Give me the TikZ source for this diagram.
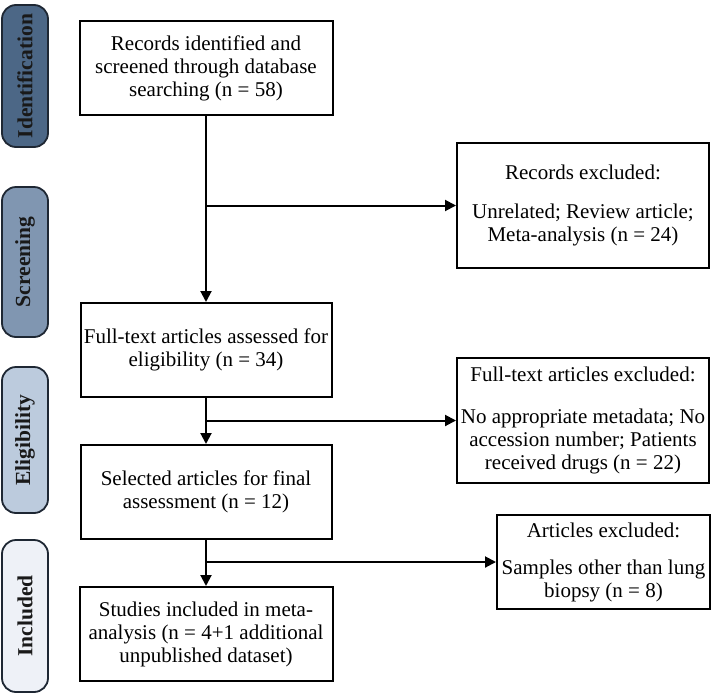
\documentclass[tikz,border=0pt]{standalone}
\usepackage{fontspec}
\setmainfont{Liberation Serif}
\usetikzlibrary{arrows.meta}
\definecolor{cIdent}{HTML}{4C6786}
\definecolor{cScreen}{HTML}{8096B1}
\definecolor{cElig}{HTML}{BCCBDD}
\definecolor{cIncl}{HTML}{EEF1F7}
\definecolor{cEdge}{HTML}{1E2733}
\tikzset{
  phase/.style={draw=cEdge, line width=1.8pt, rounded corners=14pt, rotate=90,
    minimum height=46pt, inner sep=0pt, font=\fontsize{21.5}{23}\selectfont\bfseries, text=black!90},
  box/.style={draw=black, line width=2pt, align=center, inner sep=2pt,
    font=\fontsize{21}{23}\selectfont},
  arr/.style={draw=black, line width=2pt, -{Triangle[length=11pt,width=11pt]}},
}
\begin{document}
\begin{tikzpicture}[x=1pt,y=1pt]
\useasboundingbox[fill=white] (0,0) rectangle (712,-694);
% phase labels
\node[phase, fill=cIdent, minimum width=142pt] (p1) at (25,-76) {Identification};
\node[phase, fill=cScreen, minimum width=150pt] (p2) at (25,-262) {Screening};
\node[phase, fill=cElig, minimum width=146pt] (p3) at (25,-440) {Eligibility};
\node[phase, fill=cIncl, minimum width=152pt] (p4) at (25,-616) {Included};
% main boxes
\node[box, minimum width=253pt, minimum height=94pt] (b1) at (206,-68)
  {Records identified and\\screened through database\\searching (n = 58)};
\node[box, minimum width=251pt, minimum height=94pt] (b2) at (206,-350)
  {Full-text articles assessed for\\eligibility (n = 34)};
\node[box, minimum width=251pt, minimum height=94pt] (b3) at (206,-492)
  {Selected articles for final\\assessment (n = 12)};
\node[box, minimum width=253pt, minimum height=94pt] (b4) at (206,-634)
  {Studies included in meta-\\analysis (n = 4+1 additional\\unpublished dataset)};
% exclusion boxes
\node[box, minimum width=252pt, minimum height=125pt] (e1) at (583,-205.5)
  {Records excluded:\\[16pt]Unrelated; Review article;\\Meta-analysis (n = 24)};
\node[box, minimum width=252pt, minimum height=125pt] (e2) at (583,-420.5)
  {Full-text articles excluded:\\[19pt]No appropriate metadata; No\\accession number; Patients\\received drugs (n = 22)};
\node[box, minimum width=213pt, minimum height=94pt] (e3) at (603.5,-562)
  {Articles excluded:\\[14pt]Samples other than lung\\biopsy (n = 8)};
% junctions
\coordinate (j1) at (206,-205.5);
\coordinate (j2) at (206,-420.5);
\coordinate (j3) at (206,-562);
% connectors
\draw[arr] (b1.south) -- (b2.north);
\draw[arr] (b2.south) -- (b3.north);
\draw[arr] (b3.south) -- (b4.north);
\draw[arr] (j1) -- (j1 -| e1.west);
\draw[arr] (j2) -- (j2 -| e2.west);
\draw[arr] (j3) -- (j3 -| e3.west);
\end{tikzpicture}
\end{document}
